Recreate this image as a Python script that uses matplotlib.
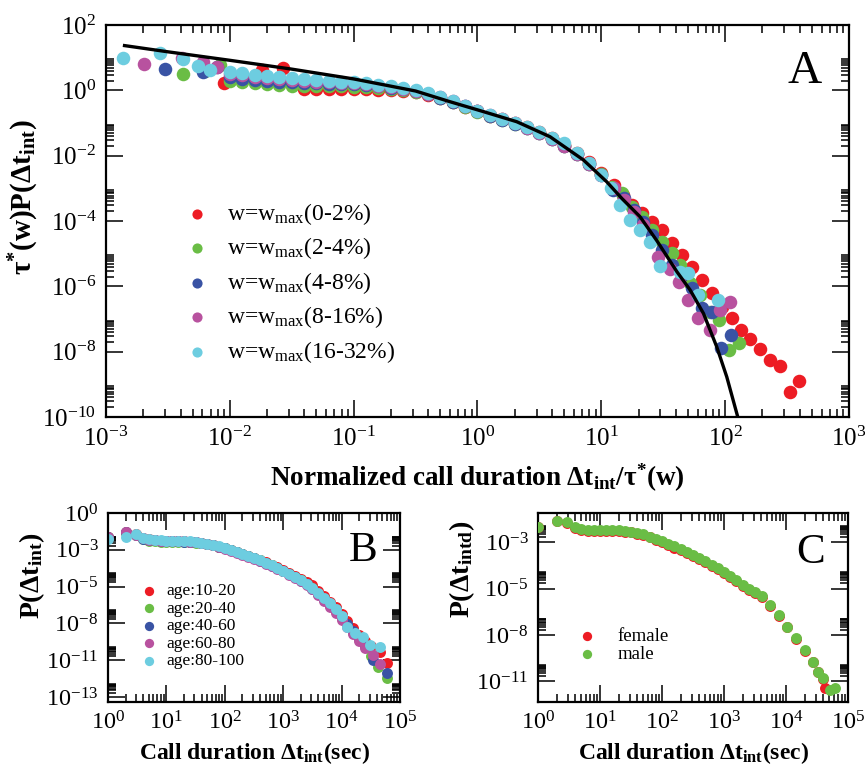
import numpy as np
import matplotlib
matplotlib.use("Agg")
import matplotlib.pyplot as plt
from matplotlib.ticker import FixedLocator, FixedFormatter, NullFormatter

plt.rcParams['font.family'] = ['Liberation Serif', 'DejaVu Serif']
plt.rcParams['mathtext.fontset'] = 'custom'
plt.rcParams['mathtext.rm'] = 'Liberation Serif'
plt.rcParams['mathtext.it'] = 'Liberation Serif:italic'
plt.rcParams['mathtext.bf'] = 'Liberation Serif:bold'

RED = '#ED1C24'
GREEN = '#6ABD45'
BLUE = '#3953A4'
MAGENTA = '#B8529F'
CYAN = '#6DCDE0'

# ---------------- panel A data (log10 values) ----------------
labels_A = [r'w=w$_{\rm max}$(0-2%)', r'w=w$_{\rm max}$(2-4%)', r'w=w$_{\rm max}$(4-8%)',
            r'w=w$_{\rm max}$(8-16%)', r'w=w$_{\rm max}$(16-32%)']

lx_mid = [-2.0, -1.9, -1.8, -1.7, -1.6, -1.5, -1.4, -1.3, -1.2, -1.1, -1.0, -0.9, -0.8, -0.7, -0.6,
          -0.5, -0.4, -0.3, -0.2, -0.1, 0.0, 0.1, 0.2, 0.3, 0.4, 0.5, 0.6, 0.7, 0.8, 0.9, 1.0]

red_lx = [-2.05, -1.74, -1.57] + lx_mid[6:] + [1.10, 1.178, 1.246, 1.327, 1.407, 1.488, 1.569, 1.65, 1.73,
                                              1.81, 1.89, 1.973, 2.054, 2.126, 2.20, 2.28, 2.36, 2.44, 2.52, 2.60]
red_ly = [0.23, 0.62, 0.67,
          0.05, 0.04, 0.03, 0.03, 0.03, 0.03, 0.02, 0.01, -0.02, -0.06, -0.13, -0.24, -0.36, -0.50,
          -0.64, -0.77, -0.89, -1.00, -1.13, -1.29, -1.46, -1.67, -1.92, -2.20, -2.52,
          -2.90, -3.20, -3.51, -3.76, -4.02, -4.27, -4.68, -5.04, -5.42, -5.81, -6.19, -6.62,
          -6.98, -7.34, -7.62, -7.92, -8.25, -8.44, -9.24, -8.90]

green_lx = [-2.38, -2.20, -2.08] + lx_mid + [1.085, 1.166, 1.246, 1.327, 1.407, 1.488, 1.569, 1.636,
                                            1.717, 1.80, 1.88, 1.953, 2.034, 2.115]
green_ly = [0.49, 0.60, 0.78,
            0.30, 0.25, 0.21, 0.18, 0.16, 0.14, 0.13, 0.12, 0.12, 0.12, 0.11, 0.10, 0.08, 0.05, 0.01,
            -0.04, -0.12, -0.23, -0.36, -0.50, -0.65, -0.78, -0.90, -1.02, -1.15, -1.31, -1.49,
            -1.70, -1.95, -2.24, -2.56,
            -2.95, -3.15, -3.56, -3.87, -4.27, -4.63, -4.99, -5.35, -5.91, -6.27, -6.78, -7.03,
            -7.95, -7.74]

blue_lx = [-2.52, -2.22, -2.10] + lx_mid + [1.098, 1.18, 1.26, 1.335, 1.407, 1.488, 1.57, 1.65, 1.73,
                                           1.81, 1.89, 1.965, 2.045]
blue_ly = [0.64, 0.55, 0.72,
           0.40, 0.36, 0.33, 0.30, 0.27, 0.25, 0.23, 0.21, 0.20, 0.19, 0.18, 0.15, 0.12, 0.08, 0.03,
           -0.03, -0.11, -0.22, -0.35, -0.49, -0.64, -0.78, -0.90, -1.02, -1.15, -1.31, -1.49,
           -1.71, -1.96, -2.25, -2.58,
           -3.05, -3.30, -3.66, -4.02, -4.43, -4.89, -5.35, -5.65, -6.06, -6.67, -6.78, -7.90, -7.49]

mag_lx = [-2.69, -2.39, -2.22, -2.10] + lx_mid + [1.10, 1.18, 1.26, 1.34, 1.46, 1.555, 1.63, 1.703,
                                                 1.784, 1.879, 1.96, 2.04]
mag_ly = [0.80, 0.98, 0.88, 0.70,
          0.50, 0.46, 0.42, 0.38, 0.35, 0.32, 0.29, 0.27, 0.25, 0.23, 0.21, 0.18, 0.14, 0.10, 0.04,
          -0.02, -0.10, -0.21, -0.33, -0.47, -0.62, -0.76, -0.88, -1.00, -1.14, -1.30, -1.48,
          -1.70, -1.95, -2.24, -2.58,
          -3.00, -3.36, -3.72, -4.12, -5.10, -5.48, -5.86, -6.42, -6.98, -7.34, -6.72, -6.47]

cyan_lx = [-2.86, -2.56, -2.38, -2.26, -2.16] + lx_mid + [1.08, 1.152, 1.233, 1.313, 1.394, 1.475,
                                                         1.636, 1.70, 1.784, 1.945]
cyan_ly = [0.98, 1.15, 0.95, 0.75, 0.62,
           0.57, 0.52, 0.48, 0.44, 0.40, 0.37, 0.34, 0.31, 0.29, 0.27, 0.25, 0.21, 0.17, 0.12, 0.06,
           0.00, -0.09, -0.20, -0.33, -0.47, -0.62, -0.76, -0.88, -0.99, -1.12, -1.28, -1.45,
           -1.62, -1.92, -2.22, -2.58,
           -3.00, -3.51, -3.97, -4.27, -4.63, -5.38, -5.55, -5.60, -6.26, -6.42]

# fitted curve, points
fit_lx = [-2.85, -2.5, -2.0, -1.5, -1.0, -0.5, -0.22, 0.047, 0.317, 0.586, 0.855, 1.044, 1.166,
          1.313, 1.448, 1.61, 1.717, 1.825, 1.932, 2.013, 2.094, 2.12]
fit_ly = [1.37, 1.18, 0.92, 0.65, 0.35, -0.02, -0.35, -0.65, -0.96, -1.42, -2.13, -2.80, -3.31,
          -3.87, -4.60, -5.55, -6.11, -6.83, -7.85, -8.77, -9.89, -10.25]

# ---------------- panel B data ----------------
labels_B = ['age:10-20', 'age:20-40', 'age:40-60', 'age:60-80', 'age:80-100']
lxB = [0.6, 0.7, 0.8, 0.9, 1.0, 1.1, 1.2, 1.3, 1.4, 1.5, 1.6, 1.7, 1.8, 1.9, 2.0, 2.1, 2.2, 2.3,
       2.4, 2.5, 2.6, 2.7, 2.8, 2.9, 3.0, 3.1, 3.2, 3.3, 3.4, 3.5]
B_red_lx = [0.0, 0.30, 0.48] + lxB + [3.6, 3.7, 3.8, 3.9, 4.0, 4.1, 4.2, 4.3, 4.4, 4.5, 4.66, 4.77]
B_red_ly = [-1.70, -1.34, -1.53,
            -1.82, -1.90, -1.95, -1.98, -2.00, -2.01, -2.02, -2.04, -2.07, -2.10, -2.15, -2.22,
            -2.31, -2.42, -2.54, -2.67, -2.81, -2.96, -3.10, -3.25, -3.40, -3.56, -3.73, -3.91,
            -4.10, -4.30, -4.51, -4.74, -4.98, -5.20,
            -5.60, -6.00, -6.40, -6.80, -7.30, -7.80, -8.30, -8.80, -9.20, -9.60, -10.00, -10.77]
B_green_lx = [0.0, 0.30, 0.48] + lxB + [3.6, 3.7, 3.8, 3.9, 4.0, 4.1, 4.2, 4.3, 4.4, 4.5, 4.63, 4.77]
B_green_ly = [-1.76, -1.45, -1.58,
              -1.90, -1.98, -2.04, -2.07, -2.09, -2.10, -2.10, -2.11, -2.12, -2.14, -2.18, -2.24,
              -2.32, -2.42, -2.53, -2.66, -2.80, -2.95, -3.10, -3.25, -3.41, -3.58, -3.76, -3.95,
              -4.15, -4.37, -4.60, -4.85, -5.12, -5.42,
              -5.80, -6.20, -6.60, -7.05, -7.55, -8.05, -8.60, -9.10, -9.60, -10.30, -11.06, -11.90]
B_blue_lx = [0.0, 0.30, 0.48] + lxB + [3.6, 3.7, 3.8, 3.9, 4.0, 4.1, 4.2, 4.3, 4.4, 4.54, 4.77]
B_blue_ly = [-1.72, -1.40, -1.55,
             -1.84, -1.92, -1.97, -2.00, -2.02, -2.03, -2.04, -2.06, -2.08, -2.11, -2.16, -2.23,
             -2.32, -2.43, -2.55, -2.68, -2.82, -2.97, -3.12, -3.27, -3.43, -3.60, -3.78, -3.97,
             -4.17, -4.39, -4.62, -4.87, -5.14, -5.44,
             -5.80, -6.20, -6.60, -7.00, -7.50, -8.00, -8.50, -9.00, -9.60, -10.60, -11.50]
B_mag_lx = [0.0, 0.30, 0.48] + lxB + [3.6, 3.7, 3.8, 3.9, 4.0, 4.1, 4.2, 4.3, 4.4, 4.54, 4.66]
B_mag_ly = [-1.74, -1.40, -1.55,
            -1.83, -1.91, -1.96, -1.99, -2.01, -2.02, -2.03, -2.05, -2.08, -2.11, -2.16, -2.23,
            -2.33, -2.45, -2.58, -2.72, -2.86, -3.01, -3.16, -3.31, -3.47, -3.64, -3.82, -4.01,
            -4.21, -4.43, -4.66, -4.91, -5.18, -5.48,
            -5.90, -6.35, -6.80, -7.20, -7.70, -8.20, -8.70, -9.20, -9.70, -10.20, -10.90]
B_cyan_lx = [0.0, 0.30, 0.48] + lxB + [3.6, 3.7, 3.8, 3.9, 4.0, 4.09, 4.23, 4.37, 4.49, 4.66]
B_cyan_ly = [-1.88, -1.70, -1.53,
             -1.80, -1.88, -1.93, -1.96, -1.98, -1.99, -2.00, -2.02, -2.05, -2.08, -2.13, -2.20,
             -2.29, -2.40, -2.52, -2.65, -2.79, -2.94, -3.09, -3.25, -3.41, -3.58, -3.76, -3.95,
             -4.15, -4.37, -4.60, -4.85, -5.12, -5.42,
             -5.75, -6.10, -6.48, -6.90, -7.40, -8.18, -8.66, -8.90, -9.50, -9.62]

# ---------------- panel C data ----------------
labels_C = ['female', 'male']
C_lx = [0.0, 0.30, 0.46, 0.60, 0.7, 0.8, 0.9, 1.0, 1.1, 1.2, 1.3, 1.4, 1.5, 1.6, 1.7, 1.8, 1.9, 2.0,
        2.1, 2.2, 2.3, 2.4, 2.5, 2.6, 2.7, 2.8, 2.9, 3.0, 3.1, 3.2, 3.3, 3.4, 3.5,
        3.61, 3.74, 3.88, 4.02, 4.16, 4.31, 4.44, 4.52, 4.60]
C_male_ly = [-1.80, -1.47, -1.54, -1.83, -1.95, -1.99, -2.00, -2.00, -2.00, -1.99, -2.00, -2.03,
             -2.08, -2.15, -2.25, -2.37, -2.50, -2.65, -2.80, -2.95, -3.10, -3.25, -3.42, -3.60,
             -3.80, -4.00, -4.22, -4.45, -4.68, -4.92, -5.18, -5.45, -5.62,
             -5.83, -6.36, -6.94, -7.62, -8.29, -8.97, -9.65, -10.24, -10.62]
C_female_ly = [-1.82, -1.49, -1.57, -1.86, -1.99, -2.03, -2.04, -2.04, -2.04, -2.04, -2.05, -2.08,
               -2.13, -2.20, -2.30, -2.42, -2.56, -2.71, -2.86, -3.01, -3.16, -3.31, -3.48, -3.66,
               -3.86, -4.06, -4.28, -4.51, -4.74, -4.98, -5.24, -5.50, -5.66,
               -5.88, -6.40, -6.98, -7.66, -8.34, -9.02, -9.70, -10.28, -10.66]
C_male_tail_lx = [4.71, 4.79]
C_male_tail_ly = [-11.30, -11.20]
C_female_tail_lx = [4.63]
C_female_tail_ly = [-11.17]


def p10(v):
    return 10.0 ** np.asarray(v, dtype=float)


def set_log_ticks(ax, xexp, yexp, ylab, fs):
    ax.set_xscale('log')
    ax.set_yscale('log')
    ax.xaxis.set_major_locator(FixedLocator([10.0 ** e for e in xexp]))
    ax.xaxis.set_major_formatter(FixedFormatter([r'$10^{%d}$' % e for e in xexp]))
    ax.xaxis.set_minor_locator(FixedLocator([m * 10.0 ** e for e in xexp for m in range(2, 10)]))
    ax.xaxis.set_minor_formatter(NullFormatter())
    ax.yaxis.set_major_locator(FixedLocator([10.0 ** e for e in yexp]))
    ax.yaxis.set_major_formatter(FixedFormatter([r'$10^{%d}$' % e for e in ylab]))
    ax.yaxis.set_minor_locator(FixedLocator([m * 10.0 ** e for e in yexp for m in range(2, 10)]))
    ax.yaxis.set_minor_formatter(NullFormatter())
    ax.tick_params(which='both', direction='in', top=True, right=True, width=1.1, labelsize=fs)
    ax.tick_params(which='major', length=12, pad=7)
    ax.tick_params(which='minor', length=6)
    for s in ax.spines.values():
        s.set_linewidth(1.6)


fig = plt.figure(figsize=(8.65, 7.72), dpi=100)

# ---------------- A ----------------
axA = fig.add_axes([0.1225, 0.4598, 0.859, 0.5078])
series_A = [(red_lx, red_ly, RED), (green_lx, green_ly, GREEN), (blue_lx, blue_ly, BLUE),
            (mag_lx, mag_ly, MAGENTA), (cyan_lx, cyan_ly, CYAN)]
for (lx, ly, c), lab in zip(series_A, labels_A):
    axA.scatter(p10(lx), p10(ly), s=95, color=c, linewidths=0, label=lab, zorder=2)
axA.plot(p10(fit_lx), p10(fit_ly), color='black', lw=2.4, zorder=3)
set_log_ticks(axA, [-3, -2, -1, 0, 1, 2, 3], [2, 0, -2, -4, -6, -8, -10],
              [2, 0, -2, -4, -6, -8, -10], 18)
axA.set_xlim(1e-3, 1e3)
axA.set_ylim(1e-10, 1e2)
axA.set_xlabel(r'$\mathbf{Normalized\ call\ duration\ \Delta t_{int}/\tau^{*}(w)}$', fontsize=19.5,
               labelpad=8)
axA.set_ylabel(r'$\mathbf{\tau^{*}(w)P(\Delta t_{int})}$', fontsize=21)
axA.yaxis.set_label_coords(-0.088, 0.56)
axA.text(0.94, 0.88, 'A', transform=axA.transAxes, fontsize=34, ha='center', va='center')
axA.legend(loc='upper left', bbox_to_anchor=(0.106, 0.551), frameon=False, fontsize=17,
           markerscale=0.75, handlelength=1.0, handletextpad=0.8, labelspacing=0.36,
           borderpad=0, borderaxespad=0, scatterpoints=1)

# ---------------- B ----------------
axB = fig.add_axes([0.1249, 0.0907, 0.3376, 0.2448])
series_B = [(B_red_lx, B_red_ly, RED), (B_green_lx, B_green_ly, GREEN), (B_blue_lx, B_blue_ly, BLUE),
            (B_mag_lx, B_mag_ly, MAGENTA), (B_cyan_lx, B_cyan_ly, CYAN)]
for (lx, ly, c), lab in zip(series_B, labels_B):
    axB.scatter(p10(lx), p10(ly), s=62, color=c, linewidths=0, label=lab, zorder=2)
b_ticks = [0, -2.65, -5.3, -7.95, -10.6, -13.25]
set_log_ticks(axB, [0, 1, 2, 3, 4, 5], b_ticks, [0, -3, -5, -8, -11, -13], 17.5)
axB.set_xlim(1, 1e5)
axB.set_ylim(10 ** -13.6, 1)
axB.set_xlabel(r'$\mathbf{Call\ duration\ \Delta t_{int}(sec)}$', fontsize=17, labelpad=4)
axB.set_ylabel(r'$\mathbf{P(\Delta t_{int})}$', fontsize=20)
axB.yaxis.set_label_coords(-0.21, 0.67)
axB.text(0.875, 0.80, 'B', transform=axB.transAxes, fontsize=31, ha='center', va='center')
axB.legend(loc='upper left', bbox_to_anchor=(0.115, 0.63), frameon=False, fontsize=12.5,
           markerscale=0.85, handlelength=0.8, handletextpad=0.6, labelspacing=0.08,
           borderpad=0, borderaxespad=0, scatterpoints=1)

# ---------------- C ----------------
axC = fig.add_axes([0.622, 0.0907, 0.3584, 0.2448])
axC.scatter(p10(C_lx), p10(C_female_ly), s=62, color=RED, linewidths=0, label=labels_C[0], zorder=2)
axC.scatter(p10(C_female_tail_lx), p10(C_female_tail_ly), s=62, color=RED, linewidths=0, zorder=2)
axC.scatter(p10(C_lx), p10(C_male_ly), s=62, color=GREEN, linewidths=0, label=labels_C[1], zorder=3)
axC.scatter(p10(C_male_tail_lx), p10(C_male_tail_ly), s=62, color=GREEN, linewidths=0, zorder=3)
c_ticks = [-2.7, -5.4, -8.1, -10.8]
set_log_ticks(axC, [0, 1, 2, 3, 4, 5], c_ticks, [-3, -5, -8, -11], 17.5)
axC.set_xlim(1, 1e5)
axC.set_ylim(1e-12, 1e-1)
axC.set_xlabel(r'$\mathbf{Call\ duration\ \Delta t_{int}(sec)}$', fontsize=17, labelpad=4)
axC.set_ylabel(r'$\mathbf{P(\Delta t_{intd})}$', fontsize=20)
axC.yaxis.set_label_coords(-0.197, 0.70)
axC.text(0.88, 0.79, 'C', transform=axC.transAxes, fontsize=31, ha='center', va='center')
axC.legend(loc='upper left', bbox_to_anchor=(0.135, 0.39), frameon=False, fontsize=13.5,
           markerscale=0.85, handlelength=0.8, handletextpad=1.2, labelspacing=0.0,
           borderpad=0, borderaxespad=0, scatterpoints=1)

fig.savefig('out.png', dpi=100)
